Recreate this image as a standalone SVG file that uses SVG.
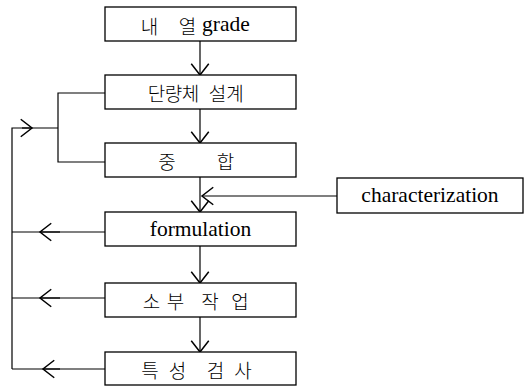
<svg xmlns="http://www.w3.org/2000/svg" width="525" height="386" viewBox="0 0 525 386">
<style>
.box{fill:#fff;stroke:#000;stroke-width:1.3}
.ln{fill:none;stroke:#000;stroke-width:1.2}
.t{font-family:"Liberation Serif","Noto Sans CJK KR",serif;font-size:21.5px;fill:#000;text-anchor:middle;dominant-baseline:central}
.k{font-family:"Noto Sans CJK KR",sans-serif;font-size:19px;font-weight:300;fill:#000;text-anchor:middle;dominant-baseline:central}
</style>
<defs>
<marker id="ah" markerUnits="userSpaceOnUse" markerWidth="20" markerHeight="20" refX="0" refY="0" viewBox="-11 -8 13 16" orient="auto" overflow="visible">
<path d="M-9,-7 L0,0 L-9,7" fill="none" stroke="#000" stroke-width="1.2"/>
</marker>
</defs>
<rect width="525" height="386" fill="#fff"/>
<g id="connectors">
<path class="ln" d="M200,41 V75" marker-end="url(#ah)"/>
<path class="ln" d="M200,109 V143" marker-end="url(#ah)"/>
<path class="ln" d="M200,177 V212" marker-end="url(#ah)"/>
<path class="ln" d="M200,246 V283" marker-end="url(#ah)"/>
<path class="ln" d="M200,317 V352" marker-end="url(#ah)"/>
<path class="ln" d="M337,196 H202" marker-end="url(#ah)"/>
<path class="ln" d="M105,93 H58 V162 H105"/>
<path class="ln" d="M58,128 H12 V369"/>
<path class="ln" d="M22,128 H32" marker-end="url(#ah)"/>
<path class="ln" d="M105,232 H12"/>
<path class="ln" d="M60,232 H40" marker-end="url(#ah)"/>
<path class="ln" d="M105,298 H12"/>
<path class="ln" d="M60,298 H40" marker-end="url(#ah)"/>
<path class="ln" d="M105,369 H12"/>
<path class="ln" d="M60,369 H43" marker-end="url(#ah)"/>
</g>
<g id="n1"><rect class="box" x="105" y="7" width="191" height="34"/>
<text class="k" x="149.5" y="25">내</text><text class="k" x="187.5" y="25">열</text>
<text class="t" x="202" y="24" style="text-anchor:start">grade</text></g>
<g id="n2"><rect class="box" x="105" y="75" width="191" height="34"/>
<text class="k" x="156.5" y="92">단</text><text class="k" x="173.5" y="92">량</text><text class="k" x="190.5" y="92">체</text><text class="k" x="217.5" y="92">설</text><text class="k" x="235" y="92">계</text></g>
<g id="n3"><rect class="box" x="105" y="143" width="191" height="34"/>
<text class="k" x="167" y="160">중</text><text class="k" x="225.5" y="160">합</text></g>
<g id="n4"><rect class="box" x="105" y="212" width="191" height="34"/><text class="t" x="200.5" y="229">formulation</text></g>
<g id="n5"><rect class="box" x="105" y="283" width="191" height="34"/>
<text class="k" x="151.5" y="300">소</text><text class="k" x="175.5" y="300">부</text><text class="k" x="210" y="300">작</text><text class="k" x="240" y="300">업</text></g>
<g id="n6"><rect class="box" x="105" y="352" width="191" height="33"/>
<text class="k" x="150" y="369">특</text><text class="k" x="177.5" y="369">성</text><text class="k" x="215.5" y="369">검</text><text class="k" x="243" y="369">사</text></g>
<g id="n7"><rect class="box" x="337" y="178" width="186" height="35"/><text class="t" x="430" y="195">characterization</text></g>
</svg>
